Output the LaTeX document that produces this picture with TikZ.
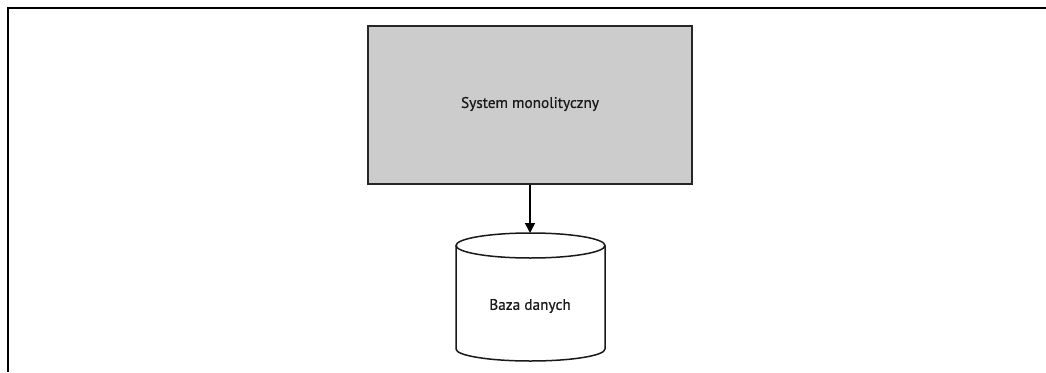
\documentclass[tikz,border=0pt]{standalone}
\usepackage{fontspec}
\setmainfont[FakeBold=0.6]{PT Sans}
\usetikzlibrary{arrows.meta}
\begin{document}
\begin{tikzpicture}[x=1pt,y=-1pt,
  frameline/.style={line width=2.2pt,black},
  boxstyle/.style={draw=black!85,line width=1.6pt,fill=black!20},
  cylline/.style={draw=black!90,line width=1.5pt},
  lbl/.style={font=\fontsize{15.3}{17}\selectfont,text=black!90},
  arr/.style={line width=1.6pt,-{Triangle[length=10pt,width=10pt]}}]
\useasboundingbox (0,0) rectangle (1046,372);
\draw[frameline] (8,372) -- (8,8) -- (1046,8);
\node[boxstyle,minimum width=324pt,minimum height=158pt,inner sep=0pt] (sys) at (530,105) {};
\node[lbl] (syslbl) at (530,104) {System monolityczny};
% cylinder
\coordinate (cyltop) at (530,233);
\fill[white] (456,245.5) -- (456,349) arc[start angle=180,end angle=360,x radius=74.5pt,y radius=12pt] -- (605,245.5) arc[start angle=0,end angle=180,x radius=74.5pt,y radius=12.5pt];
\draw[cylline] (456,245.5) -- (456,349) arc[start angle=180,end angle=360,x radius=74.5pt,y radius=12pt] -- (605,245.5);
\draw[cylline] (530.5,245.5) ellipse[x radius=74.5pt,y radius=12.5pt];
\node[lbl] (db) at (530,306) {Baza danych};
\draw[arr] (sys.south) -- (cyltop);
\end{tikzpicture}
\end{document}
